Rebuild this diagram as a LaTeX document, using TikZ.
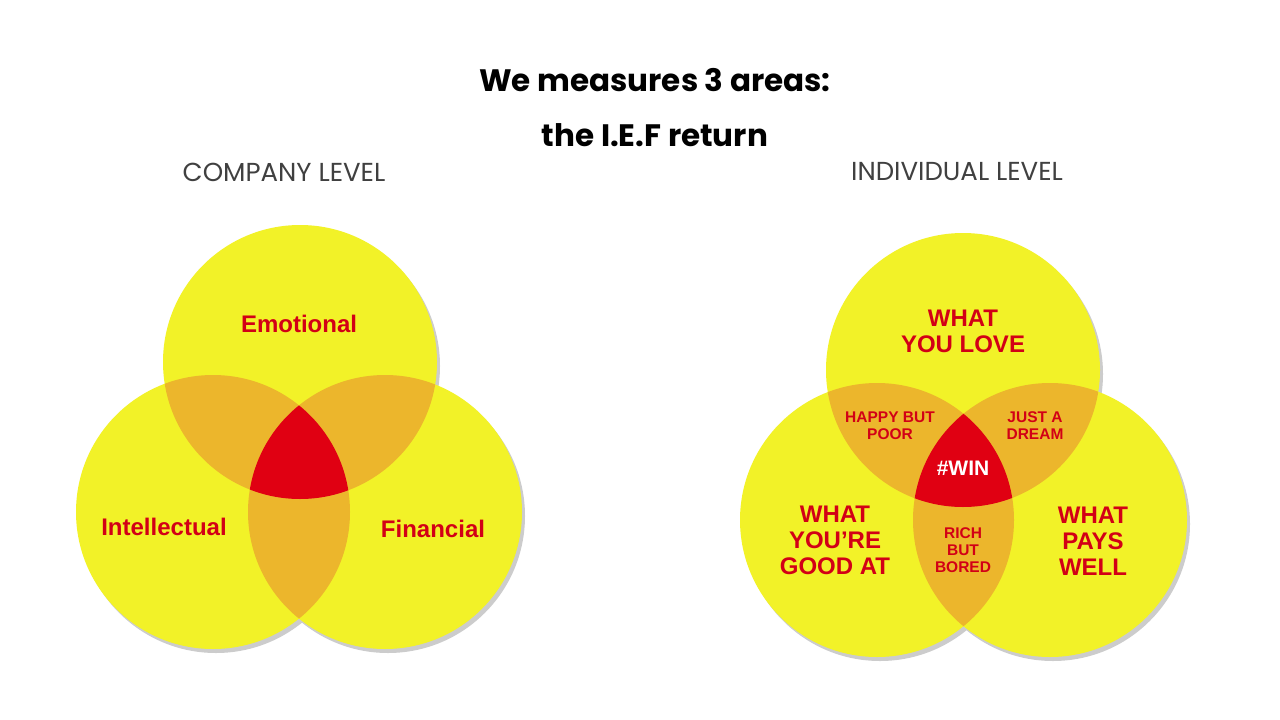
\documentclass[tikz,border=0pt]{standalone}
\usepackage{fontspec}
\setmainfont{Liberation Sans}
\newfontfamily\hand{Poppins}
\begin{document}
\begin{tikzpicture}[x=1pt,y=-1pt]
\definecolor{yel}{RGB}{242,242,40}
\definecolor{org}{RGB}{236,182,44}
\definecolor{rd}{RGB}{224,0,18}
\definecolor{txt}{RGB}{210,0,22}
\tikzset{lbl/.style={text=txt,font=\bfseries\fontsize{24}{26}\selectfont,align=center},
sm/.style={text=txt,font=\bfseries\fontsize{15.5}{17}\selectfont,align=center},
ttl/.style={font=\hand\bfseries\fontsize{31}{33}\selectfont},
lvl/.style={font=\hand\fontsize{26}{28}\selectfont,text=black!75}}
\useasboundingbox (0,0) rectangle (1280,720);
\fill[white] (0,0) rectangle (1280,720);
\node[ttl] (t1) at (655,80) {We measures 3 areas:};
\node[ttl] (t2) at (655,135) {the I.E.F return};
\node[lvl] (c) at (284,172) {COMPANY LEVEL};
\node[lvl] (i) at (957,172) {INDIVIDUAL LEVEL};
% left venn
\def\r{137}
\foreach \cx/\cy in {300/362,213/512,385/512}{\fill[gray!40] (\cx+3,\cy+4) circle (\r);}
\foreach \cx/\cy in {300/362,213/512,385/512}{\fill[yel] (\cx,\cy) circle (\r);}
\begin{scope}\clip (300,362) circle (\r);\fill[org] (213,512) circle (\r);\fill[org] (385,512) circle (\r);\end{scope}
\begin{scope}\clip (213,512) circle (\r);\fill[org] (385,512) circle (\r);\end{scope}
\begin{scope}\clip (300,362) circle (\r);\clip (213,512) circle (\r);\fill[rd] (385,512) circle (\r);\end{scope}
\node[lbl] (e) at (299,324) {Emotional};
\node[lbl] (in) at (164,527) {Intellectual};
\node[lbl] (f) at (433,529) {Financial};
% right venn
\foreach \cx/\cy in {963/370,877/520,1050/520}{\fill[gray!40] (\cx+3,\cy+4) circle (\r);}
\foreach \cx/\cy in {963/370,877/520,1050/520}{\fill[yel] (\cx,\cy) circle (\r);}
\begin{scope}\clip (963,370) circle (\r);\fill[org] (877,520) circle (\r);\fill[org] (1050,520) circle (\r);\end{scope}
\begin{scope}\clip (877,520) circle (\r);\fill[org] (1050,520) circle (\r);\end{scope}
\begin{scope}\clip (963,370) circle (\r);\clip (877,520) circle (\r);\fill[rd] (1050,520) circle (\r);\end{scope}
\node[lbl] (a) at (963,331) {WHAT\\YOU LOVE};
\node[lbl] (b) at (835,540) {WHAT\\YOU’RE\\GOOD AT};
\node[lbl] (d) at (1093,541) {WHAT\\PAYS\\WELL};
\node[sm] (h) at (890,426) {HAPPY BUT\\POOR};
\node[sm] (j) at (1035,426) {JUST A\\DREAM};
\node[sm] (rb) at (963,550) {RICH\\BUT\\BORED};
\node[text=white,font=\bfseries\fontsize{21}{23}\selectfont] (w) at (963,468) {\#WIN};
\end{tikzpicture}
\end{document}
